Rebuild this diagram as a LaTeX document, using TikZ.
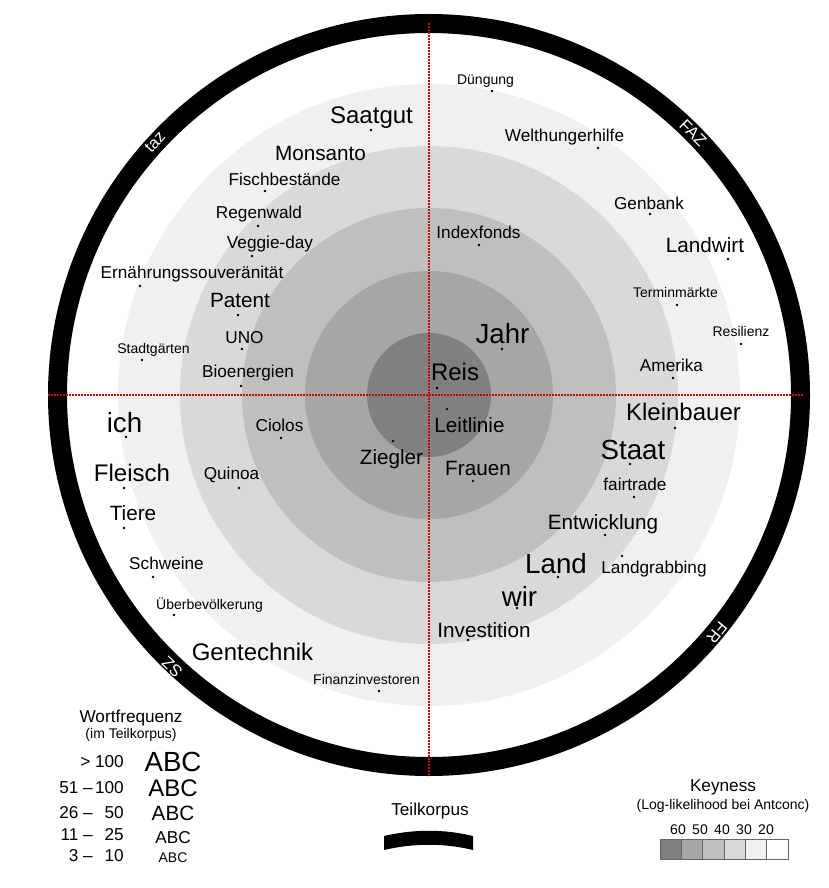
\documentclass[tikz,border=0pt]{standalone}
\usepackage{fontspec}
\setmainfont{Liberation Sans}
\definecolor{k1}{HTML}{F0F0F0}
\definecolor{k2}{HTML}{D9D9D9}
\definecolor{k3}{HTML}{BFBFBF}
\definecolor{k4}{HTML}{A6A6A6}
\definecolor{k5}{HTML}{808080}
\definecolor{redl}{HTML}{CC0000}
\tikzset{
  wd/.style={anchor=base, inner sep=0pt, font=\fontsize{#1}{#1}\selectfont},
  sA/.style={wd=27.7}, sB/.style={wd=24}, sC/.style={wd=20.7}, sD/.style={wd=17.2}, sE/.style={wd=14},
  dotm/.style={circle, fill=black, inner sep=0pt, minimum size=2.6pt},
  ringlbl/.style={text=white, font=\fontsize{16.5}{16.5}\selectfont, inner sep=0pt},
  redline/.style={draw=redl, line width=2pt, dash pattern=on 2pt off 1pt},
  keybox/.style={draw=gray!80!black, line width=0.6pt},
}
\begin{document}
\begin{tikzpicture}[x=1pt,y=-1pt]
\useasboundingbox (0,0) rectangle (829,888);
\coordinate (C) at (429,395);
% keyness circles
\fill[k1] (C) circle[radius=311pt];
\fill[k2] (C) circle[radius=249pt];
\fill[k3] (C) circle[radius=187pt];
\fill[k4] (C) circle[radius=124pt];
\fill[k5] (C) circle[radius=62pt];
% outer ring
\draw[line width=19pt] (C) circle[radius=371.5pt];
% red axes
\coordinate (hl) at (48,395); \coordinate (hr) at (803,395);
\coordinate (vt) at (429,23); \coordinate (vb) at (429,775);
\draw[redline] (hl) -- (hr);
\draw[redline] (vt) -- (vb);
% ring labels
\node[ringlbl, rotate=47.3] (taz) at (155,142) {taz};
\node[ringlbl, rotate=-45.2] (faz) at (693,133) {FAZ};
\node[ringlbl, rotate=-129.6] (fr) at (717,633) {FR};
\node[ringlbl, rotate=136.6] (sz) at (172,667) {SZ};
% upper left
\node[sB] (w1) at (371.5,124) {Saatgut};        \node[dotm] (d1) at (371,130) {};
\node[sC] (w2) at (320.5,160) {Monsanto};
\node[sD] (w3) at (284.5,185) {Fischbestände};  \node[dotm] (d3) at (265,191) {};
\node[sD] (w4) at (259,218) {Regenwald};        \node[dotm] (d4) at (258,226) {};
\node[sD] (w5) at (270,248) {Veggie-day};       \node[dotm] (d5) at (252,256) {};
\node[sD] (w6) at (192,278) {Ernährungssouveränität}; \node[dotm] (d6) at (140,286) {};
\node[sC] (w7) at (240,307.5) {Patent};         \node[dotm] (d7) at (238,315) {};
\node[sE] (w8) at (153.5,353) {Stadtgärten};    \node[dotm] (d8) at (142,360) {};
\node[sD] (w9) at (244.5,343) {UNO};            \node[dotm] (d9) at (242,349) {};
\node[sD] (w10) at (248,377) {Bioenergien};     \node[dotm] (d10) at (241,386) {};
% upper right
\node[sE] (w11) at (485.5,85) {Düngung};        \node[dotm] (d11) at (492,91) {};
\node[sD] (w12) at (564.5,142) {Welthungerhilfe}; \node[dotm] (d12) at (598,148) {};
\node[sD] (w13) at (478.5,238) {Indexfonds};    \node[dotm] (d13) at (479,245) {};
\node[sD] (w14) at (649,209) {Genbank};         \node[dotm] (d14) at (650,214) {};
\node[sC] (w15) at (705,252.5) {Landwirt};      \node[dotm] (d15) at (728,259) {};
\node[sE] (w16) at (675.5,297) {Terminmärkte};  \node[dotm] (d16) at (677,305) {};
\node[sE] (w17) at (741,336) {Resilienz};       \node[dotm] (d17) at (741,344) {};
\node[sA] (w18) at (502.5,343) {Jahr};          \node[dotm] (d18) at (502,349) {};
\node[sD] (w19) at (671.5,371) {Amerika};       \node[dotm] (d19) at (673,378) {};
\node[sB] (w20) at (455,380) {Reis};            \node[dotm] (d20) at (437,388) {};
% lower left
\node[sA] (w21) at (124.5,432) {ich};           \node[dotm] (d21) at (126,437) {};
\node[sD] (w22) at (279.5,431) {Ciolos};        \node[dotm] (d22) at (281,438) {};
\node[sC] (w23) at (391.5,464) {Ziegler};       \node[dotm] (d23) at (393,441) {};
\node[sB] (w24) at (132,481.6) {Fleisch};       \node[dotm] (d24) at (124,488) {};
\node[sD] (w25) at (231.5,479) {Quinoa};        \node[dotm] (d25) at (239,488) {};
\node[sC] (w26) at (133,520.5) {Tiere};         \node[dotm] (d26) at (124,528) {};
\node[sD] (w27) at (166.5,569) {Schweine};      \node[dotm] (d27) at (153,577) {};
\node[sE] (w28) at (209.5,609) {Überbevölkerung}; \node[dotm] (d28) at (174,615) {};
\node[sB] (w29) at (252.5,660.6) {Gentechnik};
\node[sE] (w30) at (366.5,684) {Finanzinvestoren}; \node[dotm] (d30) at (379,691) {};
% lower right
\node[sC] (w31) at (469.5,432) {Leitlinie};     \node[dotm] (d31) at (447,409) {};
\node[sC] (w32) at (478,475) {Frauen};          \node[dotm] (d32) at (473,481) {};
\node[sB] (w33) at (683.5,420.6) {Kleinbauer};  \node[dotm] (d33) at (675,428) {};
\node[sA] (w34) at (633,459) {Staat};           \node[dotm] (d34) at (630,464) {};
\node[sD] (w35) at (635,490) {fairtrade};       \node[dotm] (d35) at (634,497) {};
\node[sC] (w36) at (603,529.5) {Entwicklung};   \node[dotm] (d36) at (605,535) {};
\node[sD] (w37) at (654,573) {Landgrabbing};    \node[dotm] (d37) at (622,556) {};
\node[sA] (w38) at (556,573) {Land};            \node[dotm] (d38) at (558,577) {};
\node[sA] (w39) at (519.5,606) {wir};           \node[dotm] (d39) at (517,608) {};
\node[sC] (w40) at (484,637.5) {Investition};   \node[dotm] (d40) at (468,640) {};
% legend: word frequency
\node[sD] (lf1) at (131,722) {Wortfrequenz};
\node[sE] (lf2) at (131,738) {(im Teilkorpus)};
\node[wd=17.2, anchor=base east] (n1) at (124,767) {> 100};
\node[wd=17.2, anchor=base east] (n2a) at (93,793) {51 –};
\node[wd=17.2, anchor=base east] (n2b) at (124,793) {100};
\node[wd=17.2, anchor=base east] (n3a) at (93,818) {26 –};
\node[wd=17.2, anchor=base east] (n3b) at (124,818) {50};
\node[wd=17.2, anchor=base east] (n4a) at (93,840) {11 –};
\node[wd=17.2, anchor=base east] (n4b) at (124,840) {25};
\node[wd=17.2, anchor=base east] (n5a) at (93,861) {3 –};
\node[wd=17.2, anchor=base east] (n5b) at (124,861) {10};
\node[sA] (a1) at (173,771) {ABC};
\node[sB] (a2) at (173,796) {ABC};
\node[sC] (a3) at (173,820) {ABC};
\node[sD] (a4) at (173,843) {ABC};
\node[sE] (a5) at (173,862) {ABC};
% legend: Teilkorpus
\node[sD] (tk) at (430,815) {Teilkorpus};
\fill (384,836) .. controls (414,829) and (444,829) .. (473,836) -- (473,850) .. controls (444,843) and (414,843) .. (384,850) -- cycle;
% legend: keyness
\node[sD] (kt) at (723,791) {Keyness};
\node[sE] (ks) at (723,809) {(Log-likelihood bei Antconc)};
\foreach \c [count=\i from 0] in {k5,k4,k3,k2,k1,white}{
  \filldraw[fill=\c, keybox] (660+\i*21.33,839) rectangle (681.33+\i*21.33,859);
}
\node[sE] (k60) at (678,834) {60};
\node[sE] (k50) at (700,834) {50};
\node[sE] (k40) at (722,834) {40};
\node[sE] (k30) at (744,834) {30};
\node[sE] (k20) at (766,834) {20};
\end{tikzpicture}
\end{document}
